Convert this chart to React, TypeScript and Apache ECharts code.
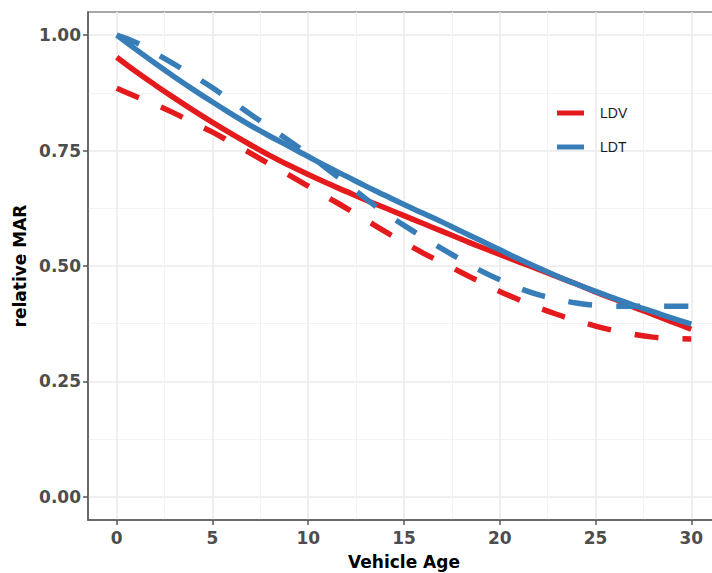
import React, { useEffect, useRef } from "react";
import * as echarts from "echarts";

const ages = [0, 1, 2, 3, 4, 5, 6, 7, 8, 9, 10, 11, 12, 13, 14, 15, 16, 17, 18, 19, 20, 21, 22, 23, 24, 25, 26, 27, 28, 29, 30];

// solid (fitted) curves
const ldvFit = [0.952, 0.921, 0.892, 0.864, 0.837, 0.811, 0.786, 0.762, 0.739, 0.718, 0.698, 0.679, 0.661, 0.643, 0.626, 0.609, 0.592, 0.575, 0.558, 0.541, 0.525, 0.509, 0.493, 0.477, 0.461, 0.444, 0.428, 0.411, 0.395, 0.379, 0.363];
const ldtFit = [1.0, 0.969, 0.939, 0.91, 0.882, 0.855, 0.829, 0.804, 0.781, 0.759, 0.737, 0.715, 0.694, 0.673, 0.653, 0.633, 0.614, 0.595, 0.575, 0.555, 0.535, 0.515, 0.496, 0.478, 0.461, 0.445, 0.43, 0.415, 0.401, 0.387, 0.374];

// dashed curves
const ldvObs = [0.885, 0.867, 0.85, 0.831, 0.81, 0.79, 0.767, 0.744, 0.72, 0.697, 0.673, 0.649, 0.625, 0.6, 0.575, 0.551, 0.528, 0.507, 0.486, 0.465, 0.445, 0.427, 0.41, 0.395, 0.382, 0.37, 0.36, 0.352, 0.346, 0.343, 0.342];
const ldtObs = [1.0, 0.984, 0.961, 0.937, 0.912, 0.886, 0.857, 0.828, 0.8, 0.771, 0.742, 0.71, 0.678, 0.646, 0.615, 0.588, 0.562, 0.537, 0.513, 0.49, 0.47, 0.452, 0.438, 0.428, 0.42, 0.415, 0.413, 0.413, 0.413, 0.413, 0.413];

const xTicks = [0, 5, 10, 15, 20, 25, 30];
const xMinor = [2.5, 7.5, 12.5, 17.5, 22.5, 27.5];
const yTicks = [0, 0.25, 0.5, 0.75, 1.0];
const yMinor = [0.125, 0.375, 0.625, 0.875];

const legendNames = ["LDV", "LDT"];
const RED = "#e41a1c";
const BLUE = "#377eb8";

const pairs = (ys: number[]) => ages.map((a, i) => [a, ys[i]]);

export default function App() {
  const ref = useRef<HTMLDivElement>(null);
  useEffect(() => {
    if (!ref.current) return;
    const chart = echarts.init(ref.current, undefined, { renderer: "svg" });
    const axisFont = { fontFamily: "DejaVu Sans", fontWeight: "bold" as const, fontSize: 17 };
    const lineSeries = (name: string, data: number[], color: string, dashed: boolean) => ({
      type: "line",
      name,
      xAxisIndex: 0,
      yAxisIndex: 0,
      data: pairs(data),
      showSymbol: false,
      smooth: 0.4,
      lineStyle: { color, width: 5.5, type: dashed ? [24, 24] : "solid", cap: "butt" },
      itemStyle: { color },
      z: 3,
    });
    chart.setOption({
      animation: false,
      backgroundColor: "#ffffff",
      grid: {
        left: 88,
        top: 12,
        width: 632,
        height: 508,
        outerBoundsMode: "none",
        containLabel: false,
        show: true,
        borderColor: "#8c8c8c",
        borderWidth: 1.5,
        backgroundColor: "transparent",
      },
      legend: {
        orient: "vertical",
        left: 552,
        top: 101,
        itemWidth: 27,
        itemHeight: 5,
        itemGap: 20,
        icon: "rect",
        textStyle: { fontFamily: "Liberation Sans", fontSize: 14, color: "#1a1a1a", padding: [0, 0, 0, 11] },
        data: [
          { name: legendNames[0], itemStyle: { color: RED, borderWidth: 0 } },
          { name: legendNames[1], itemStyle: { color: BLUE, borderWidth: 0 } },
        ],
      },
      xAxis: [
        {
          type: "value",
          min: -1.5,
          max: 31.5,
          position: "bottom",
          name: "Vehicle Age",
          nameLocation: "middle",
          nameGap: 33,
          nameTextStyle: { ...axisFont, color: "#000000" },
          axisLine: { show: true, onZero: false, lineStyle: { color: "#555555", width: 1.5 } },
          axisTick: { show: true, length: 5, customValues: xTicks, lineStyle: { color: "#555555", width: 1.5 } },
          axisLabel: { customValues: xTicks, margin: 9, ...axisFont, color: "#4d4d4d" },
          splitLine: { show: true, lineStyle: { color: "#ebebeb", width: 1.5 } },
        },
        {
          type: "value",
          min: -1.5,
          max: 31.5,
          position: "bottom",
          axisLine: { show: false },
          axisTick: { show: false, customValues: xMinor },
          axisLabel: { show: false, customValues: xMinor },
          splitLine: { show: true, lineStyle: { color: "#f3f3f3", width: 1 } },
        },
      ],
      yAxis: [
        {
          type: "value",
          min: -0.05,
          max: 1.05,
          position: "left",
          name: "relative MAR",
          nameLocation: "middle",
          nameGap: 55,
          nameTextStyle: { ...axisFont, color: "#000000" },
          axisLine: { show: true, onZero: false, lineStyle: { color: "#555555", width: 1.5 } },
          axisTick: { show: true, length: 5, customValues: yTicks, lineStyle: { color: "#555555", width: 1.5 } },
          axisLabel: {
            customValues: yTicks,
            margin: 7,
            ...axisFont,
            color: "#4d4d4d",
            formatter: (v: number) => v.toFixed(2),
          },
          splitLine: { show: true, lineStyle: { color: "#ebebeb", width: 1.5 } },
        },
        {
          type: "value",
          min: -0.05,
          max: 1.05,
          position: "left",
          axisLine: { show: false },
          axisTick: { show: false, customValues: yMinor },
          axisLabel: { show: false, customValues: yMinor },
          splitLine: { show: true, lineStyle: { color: "#f3f3f3", width: 1 } },
        },
      ],
      series: [
        lineSeries("LDV", ldvFit, RED, false),
        lineSeries("LDT", ldtFit, BLUE, false),
        lineSeries("LDV observed", ldvObs, RED, true),
        lineSeries("LDT observed", ldtObs, BLUE, true),
      ],
    });
    return () => chart.dispose();
  }, []);
  return <div ref={ref} style={{ position: "absolute", left: 0, top: 0, width: 712, height: 573 }} />;
}
